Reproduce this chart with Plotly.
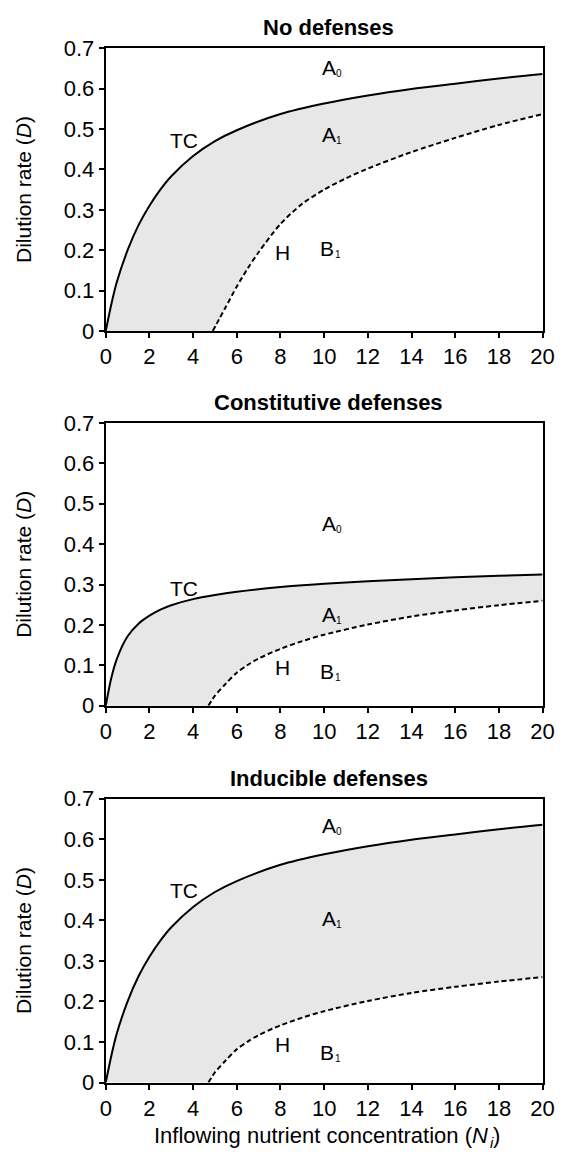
import plotly.graph_objects as go

# Inflowing nutrient concentration grid for the transcritical (TC) curves
n_tc = [0, 0.25, 0.5, 1, 1.5, 2, 2.5, 3, 4, 5, 6, 8, 10, 12, 14, 16, 18, 20]
# TC boundary, undefended prey
d_tc_none = [0, 0.065, 0.12, 0.2, 0.262, 0.31, 0.35, 0.383, 0.433, 0.47, 0.497,
             0.537, 0.563, 0.583, 0.599, 0.612, 0.625, 0.636]
# TC boundary, constitutively defended prey
d_tc_const = [0, 0.068, 0.115, 0.172, 0.203, 0.223, 0.238, 0.249, 0.264, 0.274, 0.282,
              0.294, 0.302, 0.308, 0.313, 0.318, 0.322, 0.325]

# Hopf (H) boundary, undefended prey
n_h_none = [4.9, 5.2, 5.5, 6, 6.5, 7, 8, 9, 10, 11, 12, 14, 16, 18, 20]
d_h_none = [0, 0.03, 0.06, 0.11, 0.155, 0.195, 0.265, 0.315, 0.35, 0.378, 0.402,
            0.443, 0.478, 0.51, 0.537]
# Hopf (H) boundary, defended prey
n_h_def = [4.7, 5.0, 5.5, 6, 6.5, 7, 8, 9, 10, 12, 14, 16, 18, 20]
d_h_def = [0, 0.025, 0.055, 0.082, 0.101, 0.117, 0.141, 0.16, 0.176, 0.201, 0.221,
           0.236, 0.249, 0.26]

panel_titles = ["No defenses", "Constitutive defenses", "Inducible defenses"]
x_ticks = list(range(0, 21, 2))
y_ticks = [0, 0.1, 0.2, 0.3, 0.4, 0.5, 0.6, 0.7]
y_tick_text = ["0", "0.1", "0.2", "0.3", "0.4", "0.5", "0.6", "0.7"]

# Region labels per panel: (letter, subscript, N, D)
region_labels = [
    [("A", "0", 10.2, 0.653), ("TC", "", 3.6, 0.472), ("A", "1", 10.2, 0.487),
     ("H", "", 8.1, 0.194), ("B", "1", 10.15, 0.204)],
    [("A", "0", 10.2, 0.45), ("TC", "", 3.6, 0.29), ("A", "1", 10.2, 0.225),
     ("H", "", 8.1, 0.094), ("B", "1", 10.15, 0.084)],
    [("A", "0", 10.2, 0.633), ("TC", "", 3.6, 0.473), ("A", "1", 10.2, 0.404),
     ("H", "", 8.1, 0.094), ("B", "1", 10.15, 0.074)],
]

panels = [
    (n_tc, d_tc_none, n_h_none, d_h_none),
    (n_tc, d_tc_const, n_h_def, d_h_def),
    (n_tc, d_tc_none, n_h_def, d_h_def),
]

W, H = 572, 1165
FONT = "Liberation Sans, Arial, sans-serif"
x_dom = [103 / W, 554 / W]
# pixel top/bottom of each plotting area
rows_px = [(37, 326), (420, 709), (804, 1094)]

fig = go.Figure()
annotations = []

for i, (nt, dt, nh, dh) in enumerate(panels):
    ax = "" if i == 0 else str(i + 1)
    xa, ya = "x" + ax, "y" + ax
    # lower boundary of the shaded band: x-axis up to the H curve, then H
    lower_n = [0] + nh
    lower_d = [0] + dh
    fig.add_trace(go.Scatter(x=lower_n, y=lower_d, mode="lines",
                             line=dict(width=0, shape="spline", smoothing=0.8),
                             hoverinfo="skip", showlegend=False,
                             xaxis=xa, yaxis=ya))
    fig.add_trace(go.Scatter(x=nt, y=dt, mode="lines", fill="tonexty",
                             fillcolor="#e7e7e7",
                             line=dict(color="black", width=2, shape="spline",
                                       smoothing=0.8),
                             showlegend=False, xaxis=xa, yaxis=ya))
    fig.add_trace(go.Scatter(x=nh, y=dh, mode="lines",
                             line=dict(color="black", width=2, dash="5px,3px",
                                       shape="spline", smoothing=0.8),
                             showlegend=False, xaxis=xa, yaxis=ya))

    top, bot = rows_px[i]
    y_dom = [1 - bot / H, 1 - top / H]
    axis_common = dict(showline=True, linecolor="black", linewidth=2,
                       mirror=True, ticks="outside", ticklen=5, tickwidth=2,
                       tickcolor="black", showgrid=False, zeroline=False,
                       tickfont=dict(family=FONT, size=22, color="black"))
    fig.update_layout(**{
        "xaxis" + ax: dict(domain=x_dom, range=[0, 20], tickvals=x_ticks,
                           anchor=ya, **axis_common),
        "yaxis" + ax: dict(domain=y_dom, range=[0, 0.7], tickvals=y_ticks,
                           ticktext=y_tick_text, anchor=xa, **axis_common),
    })

    # panel title
    annotations.append(dict(text="<b>" + panel_titles[i] + "</b>",
                            x=333 / W, y=1 - (top - 21) / H,
                            xref="paper", yref="paper", showarrow=False,
                            xanchor="center", yanchor="middle",
                            font=dict(family=FONT, size=22, color="black")))
    # y-axis title
    annotations.append(dict(text="Dilution rate (<i>D</i>)", textangle=-90,
                            x=18 / W, y=1 - (top + bot) / 2 / H,
                            xref="paper", yref="paper", showarrow=False,
                            xanchor="center", yanchor="middle",
                            font=dict(family=FONT, size=21, color="black")))
    for letter, sub, nx, dy in region_labels[i]:
        annotations.append(dict(text=letter, x=nx, y=dy, xref=xa, yref=ya,
                                showarrow=False, xanchor="center",
                                yanchor="middle",
                                font=dict(family=FONT, size=21, color="black")))
        if sub:
            annotations.append(dict(text=sub, x=nx, y=dy, xref=xa, yref=ya,
                                    showarrow=False, xanchor="center",
                                    yanchor="middle", xshift=10.5, yshift=-6,
                                    font=dict(family=FONT, size=10,
                                              color="black")))

# x-axis title, built as main text + subscript + closing parenthesis
xt_y = 1 - 1148 / H
xt_font = dict(family=FONT, size=22, color="black")
annotations.append(dict(text="Inflowing nutrient concentration (<i>N</i>",
                        x=500 / W, y=xt_y, xref="paper", yref="paper",
                        showarrow=False, xanchor="right", yanchor="middle",
                        font=xt_font))
annotations.append(dict(text="<i>i</i>", x=497.5 / W, y=xt_y, yshift=-7,
                        xref="paper", yref="paper", showarrow=False,
                        xanchor="left", yanchor="middle",
                        font=dict(family=FONT, size=15, color="black")))
annotations.append(dict(text=")", x=501 / W, y=xt_y, xref="paper",
                        yref="paper", showarrow=False, xanchor="left",
                        yanchor="middle", font=xt_font))

fig.update_layout(width=W, height=H, margin=dict(l=0, r=0, t=0, b=0),
                  paper_bgcolor="white", plot_bgcolor="white",
                  annotations=annotations, showlegend=False)

fig.write_html("out.html")
